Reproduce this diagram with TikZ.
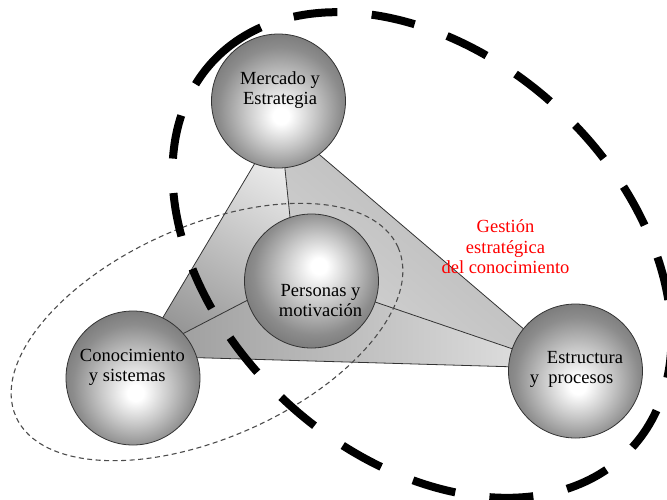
\documentclass[tikz,border=0pt]{standalone}
\usepackage{fontspec}
\setmainfont{Liberation Serif}
\pgfdeclareradialshading{sphlow}{\pgfpoint{1bp}{-6bp}}{color(0bp)=(white); color(3bp)=(white); color(13bp)=(black!22); color(23bp)=(black!45); color(31bp)=(black!56); color(45bp)=(black!56)}
\pgfdeclareradialshading{sphhigh}{\pgfpoint{3bp}{6bp}}{color(0bp)=(white); color(3bp)=(white); color(13bp)=(black!22); color(23bp)=(black!45); color(31bp)=(black!56); color(45bp)=(black!56)}
\begin{document}
\begin{tikzpicture}[x=1pt,y=-1pt,
  sphere/.style={circle, draw=black!80, line width=0.8pt, minimum size=134pt, inner sep=0pt, shade},
  lbl/.style={font=\fontsize{18.5}{20}\selectfont, inner sep=0pt},
  edgeline/.style={draw=black!80, line width=0.8pt, line join=round},
  thickdash/.style={line width=8pt, dash pattern=on 44pt off 34.5pt},
  thindash/.style={line width=1.1pt, draw=black!70, dash pattern=on 5pt off 3.5pt}]
\useasboundingbox (0,0) rectangle (667,499);
% tetrahedron corners
\coordinate (A) at (280,121);
\coordinate (B) at (140,356);
\coordinate (C) at (570,368.5);
\coordinate (P) at (296,275);
% faces
\shade[top color=black!6, bottom color=black!42, shading angle=-30] (A) -- (B) -- (P) -- cycle;
\shade[top color=black!30, bottom color=black!17, shading angle=-40] (A) -- (C) -- (P) -- cycle;
\shade[left color=black!40, right color=black!10] (B) -- (C) -- (P) -- cycle;
% edges
\draw[edgeline] (A) -- (B) -- (C) -- cycle;
\draw[edgeline] (P) -- (A);
\draw[edgeline] (P) -- (B);
\draw[edgeline] (P) -- (C);
% thin dashed ellipse
\draw[thindash, rotate around={23.9:(207,332)}] (207,332) ellipse[x radius=209, y radius=106];
% thick dashed ellipse
\begin{scope}[shift={(422,255)}, rotate=-42.7]
\draw[thickdash] (184.5:285 and 200) arc[start angle=184.5, end angle=544.5, x radius=285, y radius=200];
\end{scope}
% spheres
\node[sphere, shading=sphlow] (merc) at (278.5,101) {};
\node[sphere, shading=sphhigh] (pers) at (311.5,281) {};
\node[sphere, shading=sphlow] (cono) at (133,378) {};
\node[sphere, shading=sphlow] (estr) at (575.5,371) {};
% labels
\node[lbl, align=center] (tmerc) at (280,89.7) {Mercado y\\Estrategia};
\node[lbl, align=center] (tpers) at (320.5,301) {Personas y\\motivación};
\node[lbl, align=left] (tcono) at (132.4,367.7) {Conocimiento\\\hspace*{9pt}y sistemas};
\node[lbl, align=left] (testr) at (576.5,369.9) {\hspace*{17pt}Estructura\\y\ \ procesos};
\node[lbl, align=center, text=red, font=\fontsize{18.5}{20.5}\selectfont] (tgest) at (505.5,247) {Gestión\\estratégica\\del conocimiento};
\end{tikzpicture}
\end{document}
